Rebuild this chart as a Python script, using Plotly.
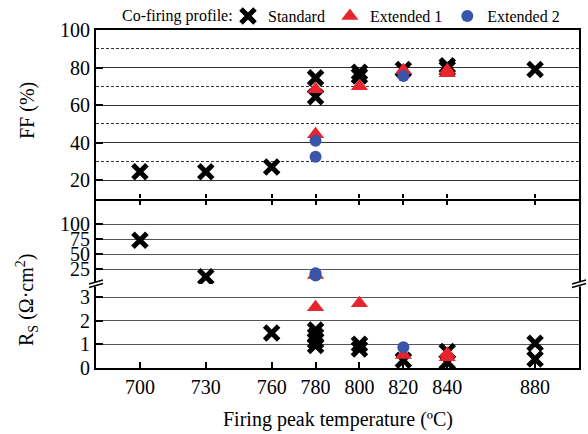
import plotly.graph_objects as go

# ---------------- data ----------------
series_names = ["Standard", "Extended 1", "Extended 2"]
x_ticks = [700, 730, 760, 780, 800, 820, 840, 880]

# Fill factor (%)
std_T_ff = [700, 730, 760, 780, 780, 800, 800, 820, 840, 840, 880]
std_ff = [24.5, 24.5, 27, 74.5, 64.5, 77.5, 75.5, 79, 81, 79.5, 79]
ext1_T_ff = [780, 780, 800, 820, 840, 840]
ext1_ff = [68.5, 44.5, 70, 78.5, 77, 78.5]
ext2_T_ff = [780, 780, 820]
ext2_ff = [41, 32.5, 75.5]

# Series resistance (Ohm cm2)
std_T_rs = [700, 730, 760, 780, 780, 780, 780, 800, 800, 820, 840, 840, 880, 880]
std_rs = [73, 12, 1.48, 1.6, 1.35, 1.15, 0.95, 1.0, 0.8, 0.33, 0.7, 0.25, 1.05, 0.38]
ext1_T_rs = [780, 780, 800, 820, 840, 840]
ext1_rs = [15, 2.57, 2.74, 0.55, 0.6, 0.45]
ext2_T_rs = [780, 780, 820]
ext2_rs = [18, 14, 0.88]

RS_BREAK = 3.55  # lower panel top value

# ---------------- styling ----------------
FONT = "Liberation Serif"
BLACK = "#000000"
RED = "#e8242c"
BLUE = "#3a55a8"
GRID = "#333333"

W, H = 588, 434
L, R, T, B = 96, 9, 30, 66
PW, PH = W - L - R, H - T - B


def px_x(px):
    return (px - L) / PW


def px_y(py):
    return (H - B - py) / PH


marker_styles = [
    dict(symbol="x-thin", size=14, color=BLACK, line=dict(width=5, color=BLACK)),
    dict(symbol="triangle-up", size=15, color=RED),
    dict(symbol="circle", size=12, color=BLUE),
]

fig = go.Figure()

ff_sets = [(std_T_ff, std_ff), (ext1_T_ff, ext1_ff), (ext2_T_ff, ext2_ff)]
rs_sets = [(std_T_rs, std_rs), (ext1_T_rs, ext1_rs), (ext2_T_rs, ext2_rs)]

for name, (tx, ty), ms in zip(series_names, ff_sets, marker_styles):
    fig.add_trace(go.Scatter(x=tx, y=ty, mode="markers", name=name, marker=ms,
                             xaxis="x", yaxis="y", showlegend=True))

for name, (tx, ty), ms in zip(series_names, rs_sets, marker_styles):
    up_x = [a for a, b in zip(tx, ty) if b > RS_BREAK]
    up_y = [b for b in ty if b > RS_BREAK]
    lo_x = [a for a, b in zip(tx, ty) if b <= RS_BREAK]
    lo_y = [b for b in ty if b <= RS_BREAK]
    fig.add_trace(go.Scatter(x=up_x, y=up_y, mode="markers", name=name, marker=ms,
                             xaxis="x2", yaxis="y2", showlegend=False))
    fig.add_trace(go.Scatter(x=lo_x, y=lo_y, mode="markers", name=name, marker=ms,
                             xaxis="x3", yaxis="y3", showlegend=False))

xr = [680, 900]
tickfont = dict(family=FONT, size=20, color=BLACK)
lo_top = px_y(284)

fig.update_layout(
    width=W, height=H,
    margin=dict(l=L, r=R, t=T, b=B, autoexpand=False),
    paper_bgcolor="white", plot_bgcolor="white",
    font=dict(family=FONT, color=BLACK),
    showlegend=True,
    legend=dict(orientation="h", x=px_x(228), xanchor="left", y=px_y(16), yanchor="middle",
                font=dict(family=FONT, size=16), bgcolor="rgba(0,0,0,0)",
                itemsizing="trace", tracegroupgap=0),
    xaxis=dict(domain=[0, 1], anchor="y", range=xr, tickvals=x_ticks, showticklabels=False,
               ticks="outside", ticklen=4, tickwidth=1.5, tickcolor=BLACK,
               showline=True, linewidth=2, linecolor=BLACK, mirror=True, showgrid=False, zeroline=False),
    yaxis=dict(domain=[0.5, 1], anchor="x", range=[10, 100], tickvals=[20, 40, 60, 80, 100],
               tickfont=tickfont, ticks="inside", ticklen=7, tickwidth=2, tickcolor=BLACK,
               showline=True, linewidth=2, linecolor=BLACK, mirror=True,
               showgrid=True, gridcolor=GRID, gridwidth=1, zeroline=False,
               minor=dict(dtick=10, tick0=0, showgrid=True, gridcolor=GRID, gridwidth=1,
                          griddash="3px,2px", ticks="")),
    xaxis2=dict(domain=[0, 1], anchor="y2", side="top", range=xr, tickvals=x_ticks, showticklabels=False,
                ticks="outside", ticklen=4, tickwidth=1.5, tickcolor=BLACK,
                showline=False, mirror=False, showgrid=False, zeroline=False),
    yaxis2=dict(domain=[lo_top, 0.5], anchor="x2", range=[0, 141.7], tickvals=[25, 50, 75, 100],
                tickfont=tickfont, ticks="inside", ticklen=7, tickwidth=2, tickcolor=BLACK,
                showline=True, linewidth=2, linecolor=BLACK, mirror=True,
                showgrid=True, gridcolor="#555555", gridwidth=1.3, zeroline=False),
    xaxis3=dict(domain=[0, 1], anchor="y3", range=xr, tickvals=x_ticks, ticktext=[str(v) for v in x_ticks],
                tickfont=tickfont, ticks="inside", ticklen=6, tickwidth=1.5, tickcolor=BLACK,
                showline=True, linewidth=2, linecolor=BLACK, mirror=False, showgrid=False, zeroline=False),
    yaxis3=dict(domain=[0, lo_top], anchor="x3", range=[0, RS_BREAK], tickvals=[0, 1, 2, 3],
                tickfont=tickfont, ticks="inside", ticklen=7, tickwidth=2, tickcolor=BLACK,
                showline=True, linewidth=2, linecolor=BLACK, mirror=True,
                showgrid=True, gridcolor="#555555", gridwidth=1.3, zeroline=False),
)

# legend title
fig.add_annotation(text="Co-firing profile:", xref="paper", yref="paper", x=px_x(120), y=px_y(16),
                   showarrow=False, font=dict(family=FONT, size=16), xanchor="left", yanchor="middle")

# axis titles
fig.add_annotation(text="FF (%)", xref="paper", yref="paper", x=px_x(27), y=px_y(111),
                   textangle=-90, showarrow=False, font=dict(family=FONT, size=20),
                   xanchor="center", yanchor="middle")
fig.add_annotation(text="R<sub>S</sub> (Ω·cm<sup>2</sup>)", xref="paper", yref="paper",
                   x=px_x(27), y=px_y(300), textangle=-90, showarrow=False,
                   font=dict(family=FONT, size=20), xanchor="center", yanchor="middle")
fig.add_annotation(text="Firing peak temperature (ºC)", xref="paper", yref="paper",
                   x=px_x(338), y=px_y(420), showarrow=False, font=dict(family=FONT, size=20),
                   xanchor="center", yanchor="middle")

# axis break marks
for cx in (96, 579):
    fig.add_shape(type="rect", xref="paper", yref="paper",
                  x0=px_x(cx - 2), x1=px_x(cx + 2), y0=px_y(286.5), y1=px_y(282),
                  fillcolor="white", line=dict(width=0), layer="above")
    for dy in (0, 3.5):
        fig.add_shape(type="line", xref="paper", yref="paper",
                      x0=px_x(cx - 7), y0=px_y(284 + dy), x1=px_x(cx + 7), y1=px_y(280 + dy),
                      line=dict(color=BLACK, width=1.5), layer="above")

fig.write_html("out.html")
